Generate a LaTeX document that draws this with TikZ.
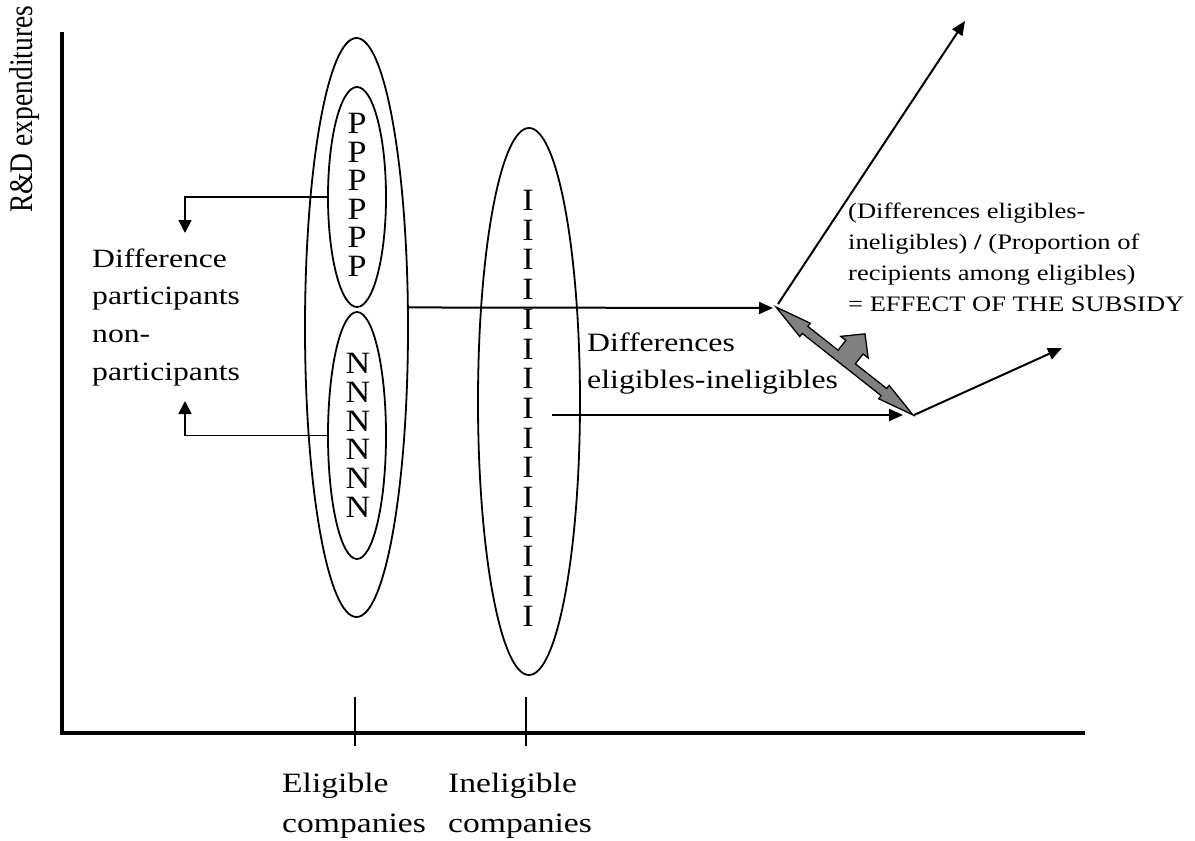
\documentclass[tikz,border=0pt]{standalone}
\usepackage{fontspec}
\setmainfont{Liberation Serif}[FakeStretch=1.2]
\newfontfamily\plainserif{Liberation Serif}
\newfontfamily\stackfont{Liberation Serif}[FakeStretch=1.1]
\usetikzlibrary{arrows.meta,shapes.geometric}
\newcommand\fsz[2]{\fontsize{#1}{#2}\selectfont}
\begin{document}
\begin{tikzpicture}[x=1pt,y=-1pt,
  ell/.style={draw, ellipse, line width=1.8pt, inner sep=0pt},
  conn/.style={line width=2pt, -{Triangle[length=14pt,width=12pt]}},
  lconn/.style={line width=1.6pt, -{Triangle[length=13pt,width=13pt]}},
  txt/.style={inner sep=0pt, anchor=base west},
  stack/.style={inner sep=0pt, anchor=base},
  tick/.style={line width=1.8pt},
  axis/.style={line width=4pt, line join=miter},
  grayarrow/.style={fill=gray, draw=black, line width=1.3pt, line join=miter}
]
\useasboundingbox (0,0) rectangle (1195,841);

% axes
\draw[axis] (62,32) -- (62,733) -- (1085,733);
\draw[tick] (355,697) -- (355,746);
\draw[tick] (526,697) -- (526,746);

% axis labels
\node[inner sep=0pt, rotate=90, anchor=base west] (ylab) at (32,213)
  {\scalebox{1}[1.2]{\plainserif\fsz{27.5}{33}R\&D expenditures}};
\node[txt] (elig) at (282,792.7)
  {\fsz{28}{40}\begin{tabular}[t]{@{}l@{}}Eligible\\companies\end{tabular}};
\node[txt] (inelig) at (448,792.7)
  {\fsz{28}{40}\begin{tabular}[t]{@{}l@{}}Ineligible\\companies\end{tabular}};

% ellipses
\node[ell, minimum width=103pt, minimum height=579pt] (outer) at (356.5,327.5) {};
\node[ell, minimum width=58pt, minimum height=220pt] (P) at (357,197) {};
\node[ell, minimum width=58pt, minimum height=247pt] (N) at (357,435.5) {};
\node[ell, minimum width=102pt, minimum height=547pt] (I) at (529,401.5) {};

% letter stacks
\node[stack] (Ps) at (357,133.5)
  {\stackfont\fsz{31}{27.5}\begin{tabular}[t]{@{}c@{}}P\\P\\P\\P\\P\\P\end{tabular}};
\node[stack] (Ns) at (358,373.5)
  {\stackfont\fsz{31}{28.3}\begin{tabular}[t]{@{}c@{}}N\\N\\N\\N\\N\\N\end{tabular}};
\node[stack] (Is) at (528,210.5)
  {\stackfont\fsz{31}{29.7}\begin{tabular}[t]{@{}c@{}}I\\I\\I\\I\\I\\I\\I\\I\\I\\I\\I\\I\\I\\I\\I\end{tabular}};

% texts
\node[txt] (dpn) at (92,267)
  {\fsz{26.4}{37.7}\begin{tabular}[t]{@{}l@{}}Difference\\participants\\non-\\participants\end{tabular}};
\node[txt] (dei) at (587,351)
  {\fsz{26.5}{37}\begin{tabular}[t]{@{}l@{}}Differences\\eligibles-ineligibles\end{tabular}};
\node[txt] (eff) at (848,218.3)
  {\fsz{22.1}{31}\begin{tabular}[t]{@{}l@{}}(Differences eligibles-\\ineligibles) \textbf{/} (Proportion of\\recipients among eligibles)\\= EFFECT OF THE SUBSIDY\end{tabular}};

% left connectors
\coordinate (cu) at (185,233);
\coordinate (cd) at (185,401);
\draw[lconn] (P.west) -| (cu);
\draw[lconn] (N.west) -| (cd);

% right connectors
\coordinate (j1) at (773,308);
\coordinate (j1s) at (778,304);
\coordinate (t1) at (965,21);
\coordinate (s2) at (552,415);
\coordinate (j2) at (903,415);
\coordinate (j2s) at (914,415);
\coordinate (t2) at (1062,348);
\draw[conn] (outer.21) -- (j1);
\draw[conn] (j1s) -- (t1);
\draw[conn] (s2) -- (j2);
\draw[conn] (j2s) -- (t2);

% grey three-headed arrow
\begin{scope}[shift={(776,307)}, rotate=-38.25]
\draw[grayarrow] (0,0) -- (37,-8.5) -- (37,-4.5) -- (75.5,-4.5) -- (75.5,-17)
  -- (69,-17) -- (86.5,-34) -- (104,-17) -- (97.5,-17) -- (97.5,-4.5)
  -- (137.4,-4.5) -- (137.4,-8.5) -- (174.4,0) -- (137.4,8.5) -- (137.4,4.5)
  -- (37,4.5) -- (37,8.5) -- cycle;
\end{scope}
\end{tikzpicture}
\end{document}
